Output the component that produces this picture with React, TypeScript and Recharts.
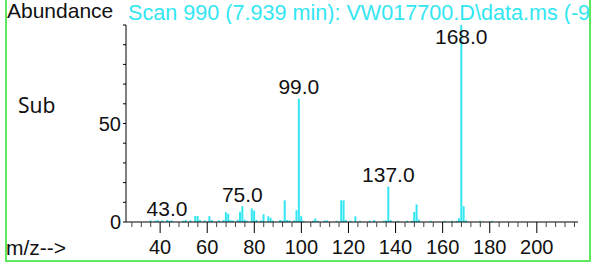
import { BarChart, Bar, XAxis, YAxis, LabelList } from 'recharts'

// m/z positions of the spectrum lines and their relative abundance (%)
const mzValues = [
  36, 38, 39, 41, 43, 44, 45, 50, 51, 53, 55, 56, 57, 59, 61, 62, 65, 67, 68, 69,
  70, 71, 73, 74, 75, 76, 77, 79, 80, 81, 83, 84, 86, 87, 88, 91, 92, 93, 94, 95,
  97, 98, 99, 100, 101, 105, 106, 107, 110, 111, 115, 117, 118, 119, 121, 123, 125, 129, 131, 135,
  136, 137, 138, 141, 145, 147, 148, 149, 150, 155, 161, 164, 166, 167, 168, 169, 170, 176, 181,
]
const abundance = [
  0.8, 0.6, 1.0, 0.8, 1.0, 0.7, 0.8, 0.7, 1.0, 0.8, 3.0, 3.0, 1.0, 0.8, 3.0, 1.0, 0.8, 1.0, 5.0, 4.2,
  1.0, 0.7, 1.2, 5.2, 8.0, 1.2, 0.6, 6.9, 5.8, 1.2, 0.8, 3.9, 2.9, 2.1, 0.7, 1.0, 0.8, 11.0, 1.0, 0.8,
  0.8, 6.0, 62.6, 3.0, 0.6, 0.7, 1.8, 0.6, 0.8, 0.8, 0.6, 11.0, 11.0, 1.0, 0.6, 2.9, 0.6, 0.6, 1.0, 0.6,
  0.8, 18.0, 1.0, 0.6, 0.6, 0.6, 5.1, 8.9, 1.2, 0.6, 0.6, 0.6, 0.6, 1.9, 100, 8.0, 0.8, 0.6, 0.6,
]
const labeledPeaks = [43, 75, 99, 137, 168]

const xTicks = [
  28, 32, 36, 40, 44, 48, 52, 56, 60, 64, 68, 72, 76, 80, 84, 88, 92, 96, 100, 104,
  108, 112, 116, 120, 124, 128, 132, 136, 140, 144, 148, 152, 156, 160, 164, 168, 172, 176, 180, 184,
  188, 192, 196, 200, 204, 208, 212, 216,
]
const xLabels = [40, 60, 80, 100, 120, 140, 160, 180, 200]
const yTicks = [0, 10, 20, 30, 40, 50, 60, 70, 80, 90, 100]
const yLabels = [0, 50]

const CYAN = '#33e6f2'
const ARIAL = '"Liberation Sans", Arial, sans-serif'

const data = mzValues.map((mz, i) => ({ mz, abundance: abundance[i] }))

function XTick(props: any) {
  const { x, y, payload } = props
  const major = xLabels.includes(payload.value)
  return (
    <g>
      <line x1={x} x2={x} y1={y} y2={y + (major ? 11 : 5)} stroke={major ? '#000' : '#444'} strokeWidth={1} />
      {major && (
        <text x={x} y={y + 32} textAnchor="middle" fontSize={20} fontFamily={ARIAL} fill="#111">
          {payload.value}
        </text>
      )}
    </g>
  )
}

function YTick(props: any) {
  const { x, y, payload } = props
  if (!yLabels.includes(payload.value)) return null
  return (
    <text x={x} y={y} dy="0.36em" textAnchor="end" fontSize={20} fontFamily={ARIAL} fill="#111">
      {payload.value}
    </text>
  )
}

function PeakLabel(props: any) {
  const { x, y, width, value } = props
  if (!labeledPeaks.includes(value)) return null
  const baseline = Math.max(Number(y) - 4.5, 43.5)
  return (
    <text x={Number(x) + Number(width) / 2} y={baseline} textAnchor="middle" fontSize={21} fontFamily={ARIAL} fill="#111">
      {Number(value).toFixed(1)}
    </text>
  )
}

export default function App() {
  return (
    <div style={{ position: 'absolute', left: 0, top: 0, width: 592, height: 265, background: '#fff', overflow: 'hidden' }}>
      <BarChart width={592} height={265} data={data} margin={{ top: 25, right: 14, left: 66, bottom: 13 }}>
        <XAxis
          type="number"
          dataKey="mz"
          domain={[25.5, 217.5]}
          allowDataOverflow
          ticks={xTicks}
          interval={0}
          tickLine={false}
          tickSize={0}
          tickMargin={0}
          tick={<XTick />}
          axisLine={{ stroke: '#000' }}
          height={30}
        />
        <YAxis
          type="number"
          domain={[0, 100]}
          ticks={yTicks}
          interval={0}
          tickSize={3}
          tickMargin={2}
          tickLine={{ stroke: '#000' }}
          tick={<YTick />}
          axisLine={{ stroke: '#000' }}
          width={60}
        />
        <Bar dataKey="abundance" fill={CYAN} barSize={2} isAnimationActive={false}>
          <LabelList dataKey="mz" content={<PeakLabel />} />
        </Bar>
      </BarChart>

      <div style={{ position: 'absolute', left: 7, top: 0, fontFamily: ARIAL, fontSize: 21, lineHeight: '21px', color: '#111', whiteSpace: 'nowrap' }}>
        Abundance
      </div>
      <div style={{ position: 'absolute', left: 128, top: 2, width: 461, overflow: 'hidden', fontFamily: ARIAL, fontSize: 21.6, lineHeight: '22px', color: CYAN, whiteSpace: 'nowrap' }}>
        Scan 990 (7.939 min): VW017700.D\data.ms (-945)
      </div>
      <div style={{ position: 'absolute', left: 18, top: 91, fontFamily: '"Noto Sans", sans-serif', fontSize: 21, color: '#111' }}>
        Sub
      </div>
      <div style={{ position: 'absolute', left: 6, top: 236, fontFamily: ARIAL, fontSize: 21, color: '#111' }}>
        m/z--&gt;
      </div>
      <div style={{ position: 'absolute', left: 5, top: -4, width: 586, height: 266, border: '2px solid #5de85d', boxSizing: 'border-box', pointerEvents: 'none' }} />
    </div>
  )
}
